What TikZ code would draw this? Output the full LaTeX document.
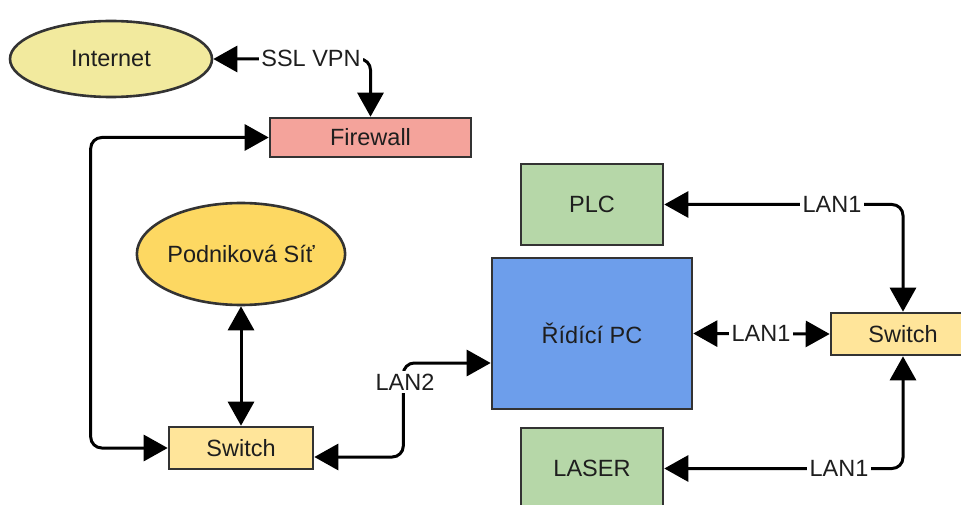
\documentclass[tikz,border=0pt]{standalone}
\usepackage{fontspec}
\setmainfont{Liberation Sans}
\usetikzlibrary{arrows.meta,shapes.geometric}

\definecolor{edgegray}{HTML}{333333}
\definecolor{txt}{HTML}{1E1E1E}
\definecolor{inetfill}{HTML}{F2EA9E}
\definecolor{fwfill}{HTML}{F4A39B}
\definecolor{corpfill}{HTML}{FDD862}
\definecolor{swfill}{HTML}{FFE59A}
\definecolor{pcfill}{HTML}{6D9EEB}
\definecolor{devfill}{HTML}{B6D7A8}

\begin{document}
\begin{tikzpicture}[x=1pt,y=-1pt,
  unit/.style={draw=edgegray, line width=2.6pt, inner sep=0pt, text=txt,
               font=\fontsize{23.5}{27}\selectfont},
  boxnode/.style={unit, rectangle},
  ovalnode/.style={unit, ellipse},
  link/.style={line width=3pt, draw=black, rounded corners=11pt,
               {Triangle[length=24pt,width=26pt]}-{Triangle[length=24pt,width=26pt]}},
  lbl/.style={fill=white, inner sep=2.5pt, text=txt,
              font=\fontsize{23.5}{27}\selectfont}]

\useasboundingbox (0,0) rectangle (961,505);

% devices and networks
\node[ovalnode, fill=inetfill, minimum width=202pt, minimum height=76pt] (inet) at (111,59) {Internet};
\node[boxnode, fill=fwfill, minimum width=201pt, minimum height=39pt] (fw) at (370.5,137.5) {Firewall};
\node[ovalnode, fill=corpfill, minimum width=202pt, minimum height=102pt] (corp) at (241,254) {Podniková Síť};
\node[boxnode, fill=swfill, minimum width=144pt, minimum height=42pt] (swl) at (241,448) {Switch};
\node[boxnode, fill=pcfill, minimum width=200pt, minimum height=151pt] (pc) at (592,333.5) {Řídící PC};
\node[boxnode, fill=devfill, minimum width=142pt, minimum height=81pt] (plc) at (592,204.5) {PLC};
\node[boxnode, fill=devfill, minimum width=142pt, minimum height=81pt] (laser) at (592,468.5) {LASER};
\node[boxnode, fill=swfill, minimum width=144pt, minimum height=42pt] (swr) at (903,334) {Switch};

% connections
\draw[link] (inet.east) -- (fw.north |- inet.east) -- (fw.north);
\draw[link] (fw.west) -- ++(-178,0) |- (swl.west);
\draw[link] (corp.south) -- (swl.north);
\draw[link] ([yshift=-9pt]swl.east) -- ++(89,0) |- ([yshift=-29.5pt]pc.west);
\draw[link] (plc.east) -| (swr.north);
\draw[link] (pc.east) -- (swr.west);
\draw[link] (swr.south) |- (laser.east);

% connection labels
\node[lbl] (lvpn) at (311,58) {SSL VPN};
\node[lbl] (llan2) at (405,382) {LAN2};
\node[lbl] (lplc) at (832,204.5) {LAN1};
\node[lbl] (lpc) at (761,333) {LAN1};
\node[lbl] (llaser) at (839,468.5) {LAN1};
\end{tikzpicture}
\end{document}
